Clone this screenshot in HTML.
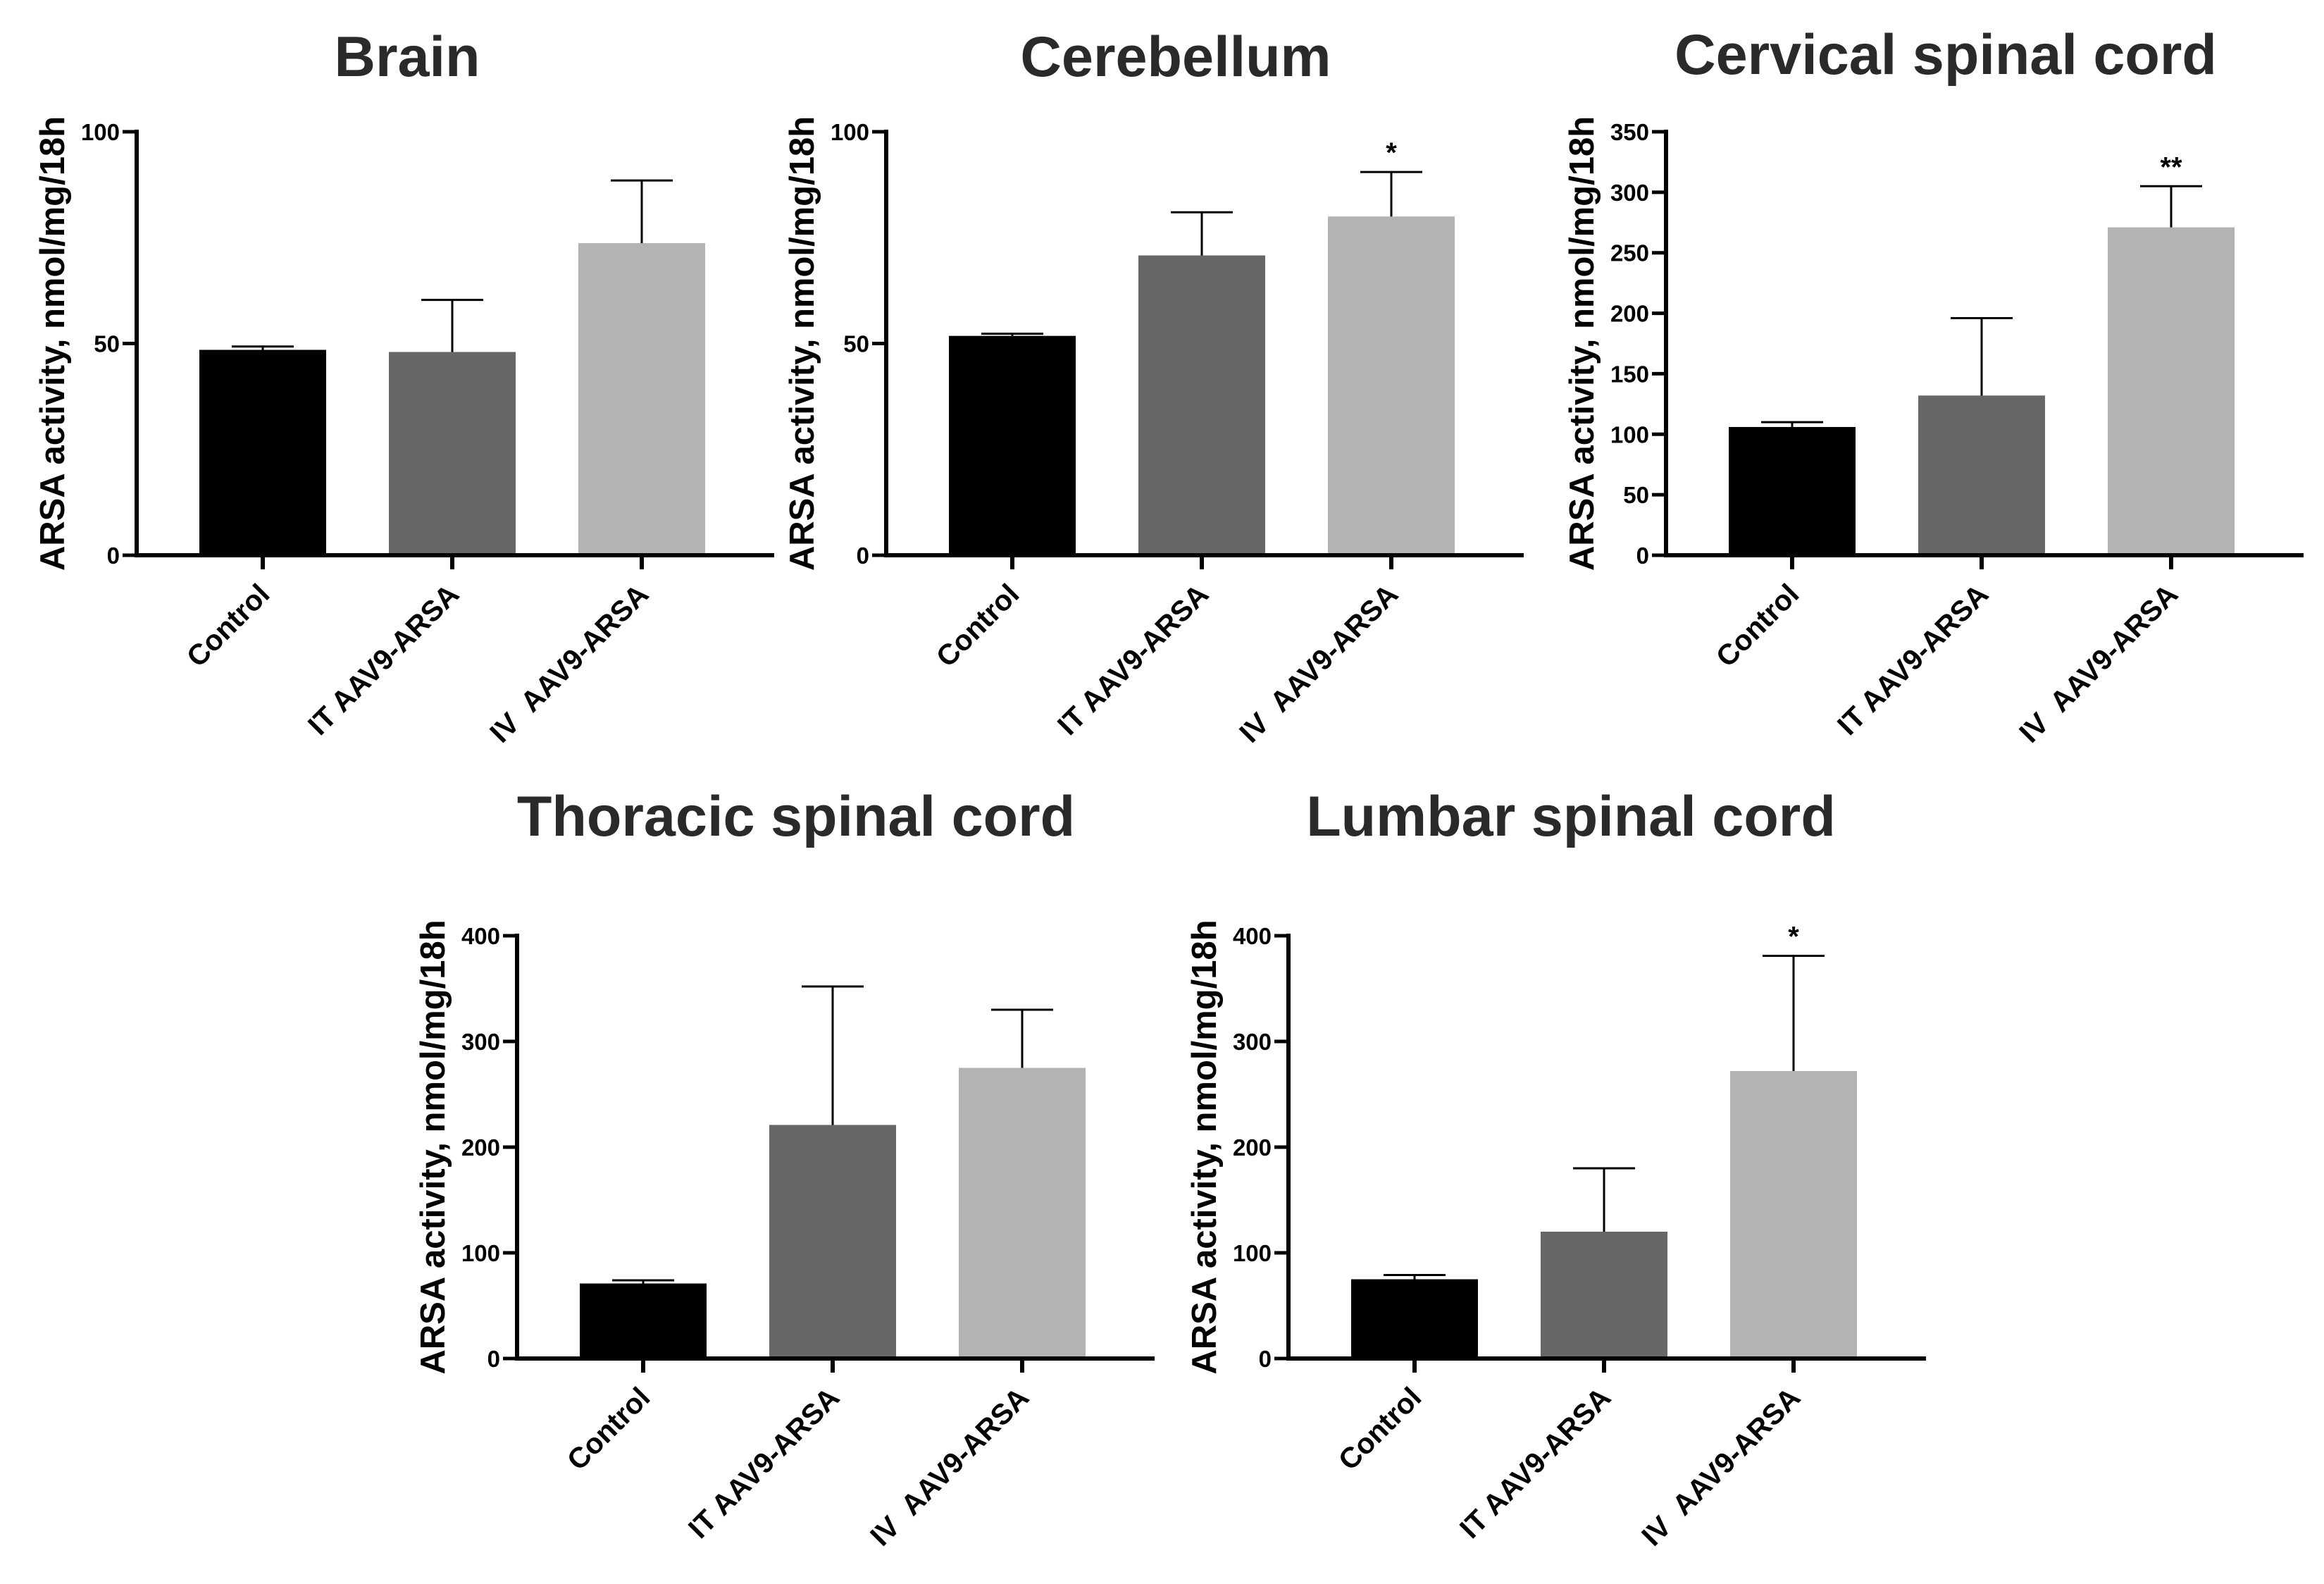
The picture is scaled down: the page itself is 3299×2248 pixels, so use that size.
<!DOCTYPE html>
<html><head><meta charset="utf-8"><style>
html,body{margin:0;padding:0;background:#fff;}
svg{display:block;}
text{font-family:"Liberation Sans",Arial,sans-serif;font-weight:bold;white-space:pre;}
</style></head>
<body>
<svg id="fig" width="3299" height="2248" viewBox="0 0 3299 2248" xmlns="http://www.w3.org/2000/svg"></svg>
<script>
const categories = ["Control", "IT AAV9-ARSA", "IV\u00a0\u00a0AAV9-ARSA"];
const brainValues = [48.5, 48, 73.7];
const brainErrors = [49.3, 60.3, 88.5];
const brainSig = ["", "", ""];
const cerebellumValues = [51.8, 70.8, 80];
const cerebellumErrors = [52.3, 81, 90.5];
const cerebellumSig = ["", "", "*"];
const cervicalValues = [106, 132, 271];
const cervicalErrors = [110, 196, 305];
const cervicalSig = ["", "", "**"];
const thoracicValues = [71, 221, 275];
const thoracicErrors = [74, 352, 330];
const thoracicSig = ["", "", ""];
const lumbarValues = [75, 120, 272];
const lumbarErrors = [79, 180, 381];
const lumbarSig = ["", "", "*"];
const ticks100 = [0, 50, 100];
const ticks350 = [0, 50, 100, 150, 200, 250, 300, 350];
const ticks400 = [0, 100, 200, 300, 400];

const colors = ["#000000", "#676767", "#b3b3b3"];
const NS = "http://www.w3.org/2000/svg";
const svg = document.getElementById("fig");
function mk(tag, attrs, parent) {
  const e = document.createElementNS(NS, tag);
  for (const k in attrs) e.setAttribute(k, attrs[k]);
  parent.appendChild(e);
  return e;
}
function panel(id, title, x0, y0, yTop, max, ticks, values, errors, sig, titleX, titleY) {
  const g = mk("g", {}, svg);
  
  
  const yS = v => y0 - (v / max) * (y0 - yTop);
  const xS = i => x0 + 89 + i * 269;
  const t = mk("text", {x: titleX, y: titleY, "text-anchor": "middle", "font-size": 81, fill: "#2a2a2a"}, g);
  t.textContent = title;
  
  
  values.forEach((v, i) => {
    const r = mk("rect", {x: xS(i), y: yS(v), width: 180, height: y0 - yS(v), fill: colors[i]}, g);
    
    
    const cx = xS(i) + 90;
    const eb = mk("path", {d: `M${cx},${yS(v)}V${yS(errors[i])}M${cx-44},${yS(errors[i])}H${cx+44}`, stroke: "#000", "stroke-width": 3, fill: "none"}, g);
    
    
    if (sig[i]) {
      const s = mk("text", {x: cx, y: yS(errors[i]) - 14, "text-anchor": "middle", "font-size": 40, "font-weight": "normal", fill: "#000"}, g);
      s.textContent = sig[i];
      
      
    }
    const tk = mk("line", {x1: cx, x2: cx, y1: y0, y2: y0 + 20, stroke: "#000", "stroke-width": 6}, g);
    
    
    const lbl = mk("text", {x: 0, y: 0, "text-anchor": "end", "font-size": 41, fill: "#000",
      transform: `translate(${cx + 12},${y0 + 58}) rotate(-45)`}, g);
    lbl.textContent = categories[i];
    
    
  });
  const ya = mk("line", {x1: x0, x2: x0, y1: yTop - 3, y2: y0 + 3, stroke: "#000", "stroke-width": 6}, g);
  
  
  const xa = mk("line", {x1: x0 - 3, x2: x0 + 905, y1: y0, y2: y0, stroke: "#000", "stroke-width": 6}, g);
  
  
  ticks.forEach(tv => {
    const ty = yS(tv);
    const tl = mk("line", {x1: x0 - 20, x2: x0, y1: ty, y2: ty, stroke: "#000", "stroke-width": 5}, g);
    
    
    const tt = mk("text", {x: x0 - 24, y: ty + 12, "text-anchor": "end", "font-size": 33, fill: "#000"}, g);
    tt.textContent = tv;
    
    
  });
  const yl = mk("text", {x: 0, y: 0, "text-anchor": "middle", "font-size": 49, fill: "#000",
    transform: `translate(${x0 - 103},${(y0 + yTop) / 2}) rotate(-90)`}, g);
  yl.textContent = "ARSA activity, nmol/mg/18h";
  
  
}
panel("brain", "Brain", 194, 788, 187, 100, ticks100, brainValues, brainErrors, brainSig, 578, 108);
panel("cerebellum", "Cerebellum", 1258, 788, 187, 100, ticks100, cerebellumValues, cerebellumErrors, cerebellumSig, 1669, 108);
panel("cervical", "Cervical spinal cord", 2365, 788, 187, 350, ticks350, cervicalValues, cervicalErrors, cervicalSig, 2762, 105);
panel("thoracic", "Thoracic spinal cord", 734, 1928, 1328, 400, ticks400, thoracicValues, thoracicErrors, thoracicSig, 1130, 1186);
panel("lumbar", "Lumbar spinal cord", 1829, 1928, 1328, 400, ticks400, lumbarValues, lumbarErrors, lumbarSig, 2230, 1186);
</script>
</body></html>
